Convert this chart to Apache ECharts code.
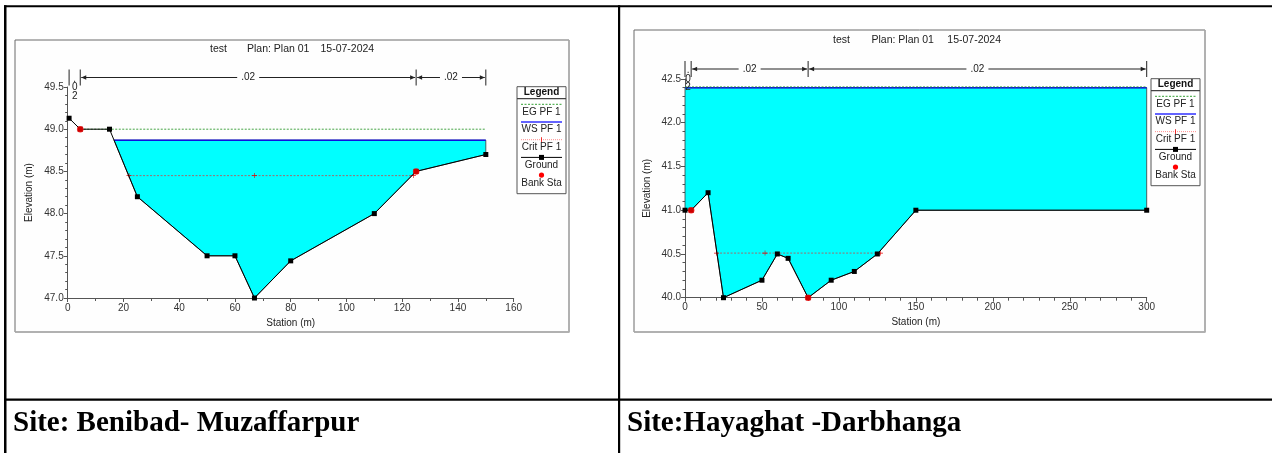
<!DOCTYPE html>
<html><head><meta charset="utf-8">
<script src="https://cdn.jsdelivr.net/npm/echarts@6/dist/echarts.min.js"></script>
<style>html,body{margin:0;padding:0;background:#fff;}#c{width:1272px;height:453px;}</style>
</head><body><div id="c"></div>
<script>
// ---------------- data ----------------
const titleParts = ['test', 'Plan: Plan 01', '15-07-2024'];
const legendItems = ['EG PF 1', 'WS PF 1', 'Crit PF 1', 'Ground', 'Bank Sta'];
const siteLabels = ['Site: Benibad- Muzaffarpur', 'Site:Hayaghat -Darbhanga'];
const xAxisName = 'Station (m)';
const yAxisName = 'Elevation (m)';

// Left panel: Benibad - Muzaffarpur
const benStation = [0.5, 4.5, 15, 25, 50, 60, 67, 80, 110, 125, 150];
const benElev    = [49.13, 49.0, 49.0, 48.2, 47.5, 47.5, 47.0, 47.44, 48.0, 48.5, 48.7];
const benBankStation = [4.5, 125];
const benBankElev    = [49.0, 48.5];
const benWS = 48.87;
const benEG = 49.0;
const benEGRange = [4.5, 150];
const benCrit = 48.45;
const benCritStation = [22, 67, 124];
const benNStation = [0.5, 4.5, 125, 150];
const benNValue = ['.02', '.02', '.02'];
const benXTicks = [0, 160, 20];     // min, max, interval
const benYTicks = [47.0, 49.5, 0.5];

// Right panel: Hayaghat - Darbhanga
const hayStation = [0, 4, 15, 25, 50, 60, 67, 80, 95, 110, 125, 150, 300];
const hayElev    = [41.0, 41.0, 41.2, 40.0, 40.2, 40.5, 40.45, 40.0, 40.2, 40.3, 40.5, 41.0, 41.0];
const hayBankStation = [4, 80];
const hayBankElev    = [41.0, 40.0];
const hayWS = 42.4;
const hayEG = 42.41;
const hayEGRange = [0, 300];
const hayCrit = 40.51;
const hayCritStation = [20.5, 52, 127];
const hayNStation = [0, 4, 80, 300];
const hayNValue = ['.02', '.02', '.02'];
const hayXTicks = [0, 300, 50];
const hayYTicks = [40.0, 42.5, 0.5];

// ---------------- layout / style ----------------
const FONT = 'Arial, "Liberation Sans", sans-serif';
const panels = [
  {st: benStation, el: benElev, bs: benBankStation, be: benBankElev, ws: benWS, eg: benEG, egr: benEGRange,
   crit: benCrit, cs: benCritStation, ns: benNStation, nv: benNValue, xt: benXTicks, yt: benYTicks,
   grid: {left: 67.7, top: 87, width: 446, height: 211}, nOff: 9.5, yMinor: 5, xMinor: 2,
   frame: [15, 40, 554, 292], titleX: [210, 247, 320.5], titleY: 49, legend: [517, 86.7],
   site: [13, 424]},
  {st: hayStation, el: hayElev, bs: hayBankStation, be: hayBankElev, ws: hayWS, eg: hayEG, egr: hayEGRange,
   crit: hayCrit, cs: hayCritStation, ns: hayNStation, nv: hayNValue, xt: hayXTicks, yt: hayYTicks,
   grid: {left: 685, top: 79, width: 461.7, height: 218.7}, nOff: 10, yMinor: 5, xMinor: 5,
   frame: [634, 30, 571, 302], titleX: [833, 871.5, 947.3], titleY: 40, legend: [1151, 78.7],
   site: [627, 424]}
];

function wetPolygon(st, el, ws) {
  const pts = [];
  for (let i = 0; i < st.length; i++) {
    const below = el[i] <= ws;
    if (i > 0) {
      const pb = el[i - 1] <= ws;
      if (below !== pb) {
        const t = (ws - el[i - 1]) / (el[i] - el[i - 1]);
        pts.push([st[i - 1] + t * (st[i] - st[i - 1]), ws]);
      }
    }
    if (below) pts.push([st[i], el[i]]);
  }
  const f = pts[0], l = pts[pts.length - 1];
  if (f[1] !== ws) pts.unshift([f[0], ws]);
  if (l[1] !== ws) pts.push([l[0], ws]);
  return pts;
}

const plusPath = 'path://M-0.12,-1h0.24v0.88h0.88v0.24h-0.88v0.88h-0.24v-0.88h-0.88v-0.24h0.88z';

const grids = [], xAxes = [], yAxes = [], series = [], graphics = [];

// table lines
graphics.push(
  {type: 'rect', shape: {x: 4, y: 5.3, width: 1268, height: 2}, style: {fill: '#000'}, z: 10},
  {type: 'rect', shape: {x: 4, y: 5.3, width: 2.5, height: 448}, style: {fill: '#000'}, z: 10},
  {type: 'rect', shape: {x: 618, y: 5.3, width: 2.2, height: 448}, style: {fill: '#000'}, z: 10},
  {type: 'rect', shape: {x: 4, y: 398.5, width: 1268, height: 2.2}, style: {fill: '#000'}, z: 10}
);

function legendGroup(bx, by) {
  const w = 49, h = 107;
  const ch = [
    {type: 'rect', shape: {x: 0, y: 0, width: w, height: h}, style: {fill: '#fff', stroke: '#555', lineWidth: 1}},
    {type: 'text', x: w / 2, y: 5.5, style: {text: 'Legend', font: 'bold 10px ' + FONT, fill: '#111', align: 'center', verticalAlign: 'middle'}},
    {type: 'line', shape: {x1: 0, y1: 12, x2: w, y2: 12}, style: {stroke: '#444', lineWidth: 1.2}}
  ];
  const step = 17.7;
  legendItems.forEach((name, i) => {
    const ly = 17.6 + i * step, ty = 25.3 + i * step;
    if (i === 0) ch.push({type: 'line', shape: {x1: 4, y1: ly, x2: w - 4, y2: ly}, style: {stroke: '#33a033', lineWidth: 1, lineDash: [2, 1.5]}});
    if (i === 1) ch.push({type: 'line', shape: {x1: 4, y1: ly, x2: w - 4, y2: ly}, style: {stroke: '#6464ff', lineWidth: 2.2}});
    if (i === 2) {
      ch.push({type: 'line', shape: {x1: 4, y1: ly, x2: w - 4, y2: ly}, style: {stroke: '#ff7070', lineWidth: 0.8, lineDash: [1, 1]}});
      ch.push({type: 'line', shape: {x1: w / 2, y1: ly - 2.5, x2: w / 2, y2: ly + 2.5}, style: {stroke: '#e00', lineWidth: 0.8}});
    }
    if (i === 3) {
      ch.push({type: 'line', shape: {x1: 4, y1: ly, x2: w - 4, y2: ly}, style: {stroke: '#000', lineWidth: 1}});
      ch.push({type: 'rect', shape: {x: w / 2 - 2.5, y: ly - 2.5, width: 5, height: 5}, style: {fill: '#000'}});
    }
    if (i === 4) ch.push({type: 'circle', shape: {cx: w / 2, cy: ly, r: 2.6}, style: {fill: '#f00'}});
    ch.push({type: 'text', x: w / 2, y: ty, style: {text: name, font: '10px ' + FONT, fill: '#222', align: 'center', verticalAlign: 'middle'}});
  });
  return {type: 'group', x: bx, y: by, children: ch, z: 20};
}

panels.forEach((p, k) => {
  // frame
  const [fx, fy, fw, fh] = p.frame;
  graphics.push({type: 'rect', shape: {x: fx, y: fy, width: fw, height: fh}, style: {fill: '#fefefe', stroke: '#6a6a6a', lineWidth: 1}, z: -10});
  graphics.push({type: 'polyline', shape: {points: [[fx + fw, fy], [fx + fw, fy + fh], [fx, fy + fh]]}, style: {stroke: '#b0b0b0', lineWidth: 1.5, fill: null}, z: -9});
  // titles
  titleParts.forEach((t, i) => graphics.push({type: 'text', x: p.titleX[i], y: p.titleY,
    style: {text: t, font: '10.5px ' + FONT, fill: '#222', verticalAlign: 'middle'}, z: 5}));
  graphics.push(legendGroup(p.legend[0], p.legend[1]));
  graphics.push({type: 'text', x: p.site[0], y: p.site[1],
    style: {text: siteLabels[k], font: 'bold 29px "Times New Roman", "Liberation Serif", serif', fill: '#000', verticalAlign: 'middle'}, z: 10});

  grids.push(Object.assign({outerBoundsMode: 'none', containLabel: false}, p.grid));
  const axisCommon = {
    axisLine: {show: true, lineStyle: {color: '#555', width: 1}},
    axisTick: {show: true, length: 4, lineStyle: {color: '#555'}},
    splitLine: {show: false},
    nameTextStyle: {fontSize: 10, fontFamily: FONT, color: '#222'},
    axisLabel: {fontSize: 10, fontFamily: FONT, color: '#333'}
  };
  xAxes.push(Object.assign({}, axisCommon, {
    type: 'value', gridIndex: k, min: p.xt[0], max: p.xt[1], interval: p.xt[2],
    name: xAxisName, nameLocation: 'middle', nameGap: 20,
    axisLabel: {fontSize: 10, fontFamily: FONT, color: '#333', margin: 5},
    minorTick: {show: true, splitNumber: p.xMinor, length: 3, lineStyle: {color: '#555'}}
  }));
  yAxes.push(Object.assign({}, axisCommon, {
    type: 'value', gridIndex: k, min: p.yt[0], max: p.yt[1], interval: p.yt[2],
    name: yAxisName, nameLocation: 'middle', nameGap: 33, nameRotate: 90,
    axisLabel: {fontSize: 10, fontFamily: FONT, color: '#333', margin: 4, formatter: v => v.toFixed(1)},
    minorTick: {show: true, splitNumber: p.yMinor, length: 2.5, lineStyle: {color: '#555'}}
  }));

  const poly = wetPolygon(p.st, p.el, p.ws);
  const wsStart = poly[0][0], wsEnd = poly[poly.length - 1][0];

  // water fill
  series.push({type: 'custom', xAxisIndex: k, yAxisIndex: k, silent: true, z: 1, clip: false,
    data: [[p.st[0], p.ws]],
    renderItem: (params, api) => ({type: 'polygon',
      shape: {points: poly.map(q => api.coord(q))},
      style: {fill: '#00ffff', stroke: '#3a3a3a', lineWidth: 0.8}})
  });
  // WS line
  series.push({type: 'line', xAxisIndex: k, yAxisIndex: k, silent: true, z: 3, symbol: 'none',
    data: [[wsStart, p.ws], [wsEnd, p.ws]], lineStyle: {color: '#1010e0', width: 1.5}});
  // EG line
  series.push({type: 'line', xAxisIndex: k, yAxisIndex: k, silent: true, z: 4, symbol: 'none',
    data: [[p.egr[0], p.eg], [p.egr[1], p.eg]], lineStyle: {color: '#2f9a2f', width: 0.9, type: [2, 1.5]}});
  // Crit line
  series.push({type: 'line', xAxisIndex: k, yAxisIndex: k, silent: true, z: 4,
    symbol: plusPath, symbolSize: 5, showAllSymbol: true,
    itemStyle: {color: '#e00000'},
    data: p.cs.map(s => [s, p.crit]), lineStyle: {color: '#e03030', width: 0.7, type: [2, 1.5]}});
  // Ground
  series.push({type: 'line', xAxisIndex: k, yAxisIndex: k, silent: true, z: 5,
    symbol: 'rect', symbolSize: 5, showAllSymbol: true, itemStyle: {color: '#000'},
    data: p.st.map((s, i) => [s, p.el[i]]), lineStyle: {color: '#000', width: 1}});
  // Bank stations
  series.push({type: 'scatter', xAxisIndex: k, yAxisIndex: k, silent: true, z: 6,
    symbol: 'circle', symbolSize: 6.5, itemStyle: {color: '#f00'},
    data: p.bs.map((s, i) => [s, p.be[i]])});
  // Manning n markers
  series.push({type: 'custom', xAxisIndex: k, yAxisIndex: k, silent: true, z: 6, clip: false,
    data: [[p.st[0], p.yt[1]]],
    renderItem: (params, api) => {
      const ytop = api.coord([p.xt[0], p.yt[1]])[1];
      const my = ytop - p.nOff;
      const ch = [];
      const xs = p.ns.map(s => api.coord([s, p.yt[1]])[0]);
      const ls = {stroke: '#222', lineWidth: 1};
      xs.forEach(x => ch.push({type: 'line', shape: {x1: x, y1: my - 8, x2: x, y2: my + 8}, style: ls}));
      for (let i = 0; i < xs.length - 1; i++) {
        const x1 = xs[i], x2 = xs[i + 1], mid = (x1 + x2) / 2;
        if (x2 - x1 > 30) {
          ch.push({type: 'line', shape: {x1: x1 + 1, y1: my, x2: mid - 11, y2: my}, style: ls});
          ch.push({type: 'line', shape: {x1: mid + 11, y1: my, x2: x2 - 1, y2: my}, style: ls});
          ch.push({type: 'polygon', shape: {points: [[x1 + 1, my], [x1 + 6, my - 2.2], [x1 + 6, my + 2.2]]}, style: {fill: '#222'}});
          ch.push({type: 'polygon', shape: {points: [[x2 - 1, my], [x2 - 6, my - 2.2], [x2 - 6, my + 2.2]]}, style: {fill: '#222'}});
          ch.push({type: 'text', x: mid, y: my, style: {text: p.nv[i], font: '10px ' + FONT, fill: '#222', align: 'center', verticalAlign: 'middle'}});
        } else {
          ch.push({type: 'text', x: mid, y: my - 3, style: {text: p.nv[i].split('').join('\n'), font: '10px ' + FONT, lineHeight: 8.5, fill: '#222', align: 'center', verticalAlign: 'top'}});
        }
      }
      return {type: 'group', children: ch};
    }
  });
});

const chart = echarts.init(document.getElementById('c'), null, {renderer: 'canvas'});
chart.setOption({
  animation: false,
  backgroundColor: '#fff',
  grid: grids, xAxis: xAxes, yAxis: yAxes, series: series, graphic: graphics
});
</script></body></html>
